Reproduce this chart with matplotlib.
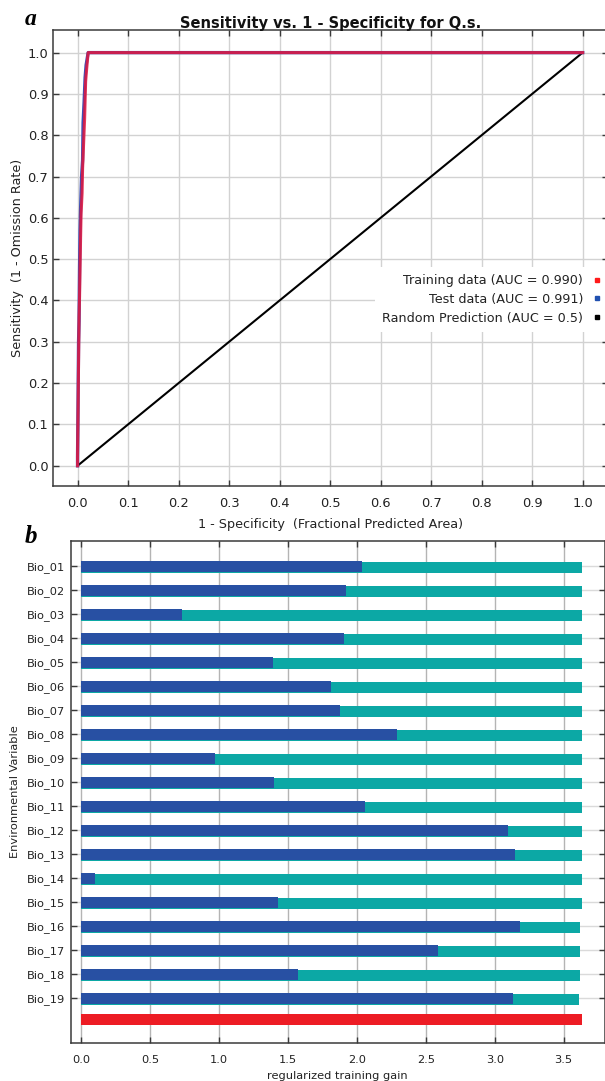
import numpy as np
import matplotlib.pyplot as plt
from matplotlib.lines import Line2D

# ROC curve (panel a)
train_fpr = [0.0, 0.0, 0.001, 0.002, 0.003, 0.004, 0.005, 0.006, 0.007, 0.009, 0.010,
             0.012, 0.014, 0.016, 0.018, 0.021, 1.0]
train_tpr = [0.0, 0.02, 0.13, 0.25, 0.36, 0.41, 0.48, 0.55, 0.61, 0.66, 0.72,
             0.78, 0.84, 0.93, 0.96, 1.0, 1.0]
test_fpr = [0.0, 0.0, 0.001, 0.002, 0.003, 0.004, 0.005, 0.006, 0.008, 0.010,
            0.011, 0.013, 0.015, 0.017, 0.021, 1.0]
test_tpr = [0.0, 0.02, 0.15, 0.30, 0.35, 0.48, 0.57, 0.62, 0.70, 0.74,
            0.83, 0.88, 0.94, 0.97, 1.0, 1.0]
rand_x = [0.0, 1.0]
rand_y = [0.0, 1.0]
auc_train = 0.990
auc_test = 0.991

# Jackknife (panel b)
variables = ["Bio_%02d" % i for i in range(1, 20)]
only_gain = [2.04, 1.92, 0.73, 1.91, 1.39, 1.81, 1.88, 2.29, 0.97, 1.40,
             2.06, 3.10, 3.15, 0.10, 1.43, 3.18, 2.59, 1.57, 3.13]
without_gain = [3.63, 3.63, 3.63, 3.63, 3.63, 3.63, 3.63, 3.63, 3.63, 3.63,
                3.63, 3.63, 3.63, 3.63, 3.63, 3.62, 3.62, 3.62, 3.61]
all_gain = 3.63

W, H = 605, 1081
fig = plt.figure(figsize=(W / 100, H / 100), dpi=100)
plt.rcParams['font.family'] = ['DejaVu Sans']

frame_c = '#3a3a3a'
txt_c = '#222222'

# ---------------- panel a ----------------
ax1 = fig.add_axes([53.3 / W, 1 - 486 / H, (607.9 - 53.3) / W, (486 - 30.3) / H])
ax1.set_xlim(-0.048, 1.05)
ax1.set_ylim(-0.049, 1.054)
ax1.set_xticks(np.arange(0, 1.01, 0.1))
ax1.set_yticks(np.arange(0, 1.01, 0.1))
ax1.set_xticklabels(["%.1f" % v for v in np.arange(0, 1.01, 0.1)])
ax1.set_yticklabels(["%.1f" % v for v in np.arange(0, 1.01, 0.1)])
ax1.grid(True, color='#d2d2d2', lw=1.0)
ax1.set_axisbelow(True)
for s in ax1.spines.values():
    s.set_color(frame_c)
    s.set_linewidth(1.1)
ax1.tick_params(direction='in', length=4, width=1, color=frame_c, labelsize=9.4,
                labelcolor=txt_c, top=True, right=True)
ax1.tick_params(axis='y', pad=3.6)
ax1.tick_params(axis='x', pad=8)

ax1.plot(rand_x, rand_y, color='black', lw=1.5, zorder=3)
ax1.plot(test_fpr, test_tpr, color='#3c4fb4', lw=2.4, zorder=4)
ax1.plot(train_fpr, train_tpr, color='#e3173e', lw=2.2, alpha=0.85, zorder=5)

ax1.set_title("Sensitivity vs. 1 - Specificity for Q.s.", fontsize=10.5,
              fontweight='bold', pad=2, color='#111111')
ax1.set_xlabel("1 - Specificity  (Fractional Predicted Area)", fontsize=9.2,
               color=txt_c, labelpad=5.5)
ax1.set_ylabel("Sensitivity  (1 - Omission Rate)", fontsize=9.2, color=txt_c,
               labelpad=2.5)

handles = [Line2D([], [], ls='none', marker='s', ms=3.3, color='#ff1a1a'),
           Line2D([], [], ls='none', marker='s', ms=3.3, color='#2050b0'),
           Line2D([], [], ls='none', marker='s', ms=3.3, color='black')]
labels = ["Training data (AUC = %.3f)" % auc_train,
          "Test data (AUC = %.3f)" % auc_test,
          "Random Prediction (AUC = 0.5)"]
leg = ax1.legend(handles, labels, loc='upper right', bbox_to_anchor=(1.0, 0.4806),
                 markerfirst=False, frameon=True, fancybox=False, framealpha=1,
                 edgecolor='none', facecolor='white', fontsize=9.2,
                 handlelength=0.6, handletextpad=0.8, labelspacing=0.46,
                 borderpad=0.55, borderaxespad=0)
for t in leg.get_texts():
    t.set_color(txt_c)

fig.text(31 / W, 1 - 25 / H, "a", fontsize=17, fontweight='bold', fontstyle='italic',
         family='Liberation Serif', ha='center', va='baseline')

# ---------------- panel b ----------------
ax2 = fig.add_axes([70.5 / W, 1 - 1042.7 / H, (605 - 70.5) / W, (1042.7 - 540.5) / H])
ypos = np.arange(len(variables))
ax2.barh(ypos + 0.06, without_gain, height=0.46, color='#0ca8a5', zorder=2)
ax2.barh(ypos, only_gain, height=0.46, color='#2850a3', zorder=3)
ax2.barh([18.91], [all_gain], height=0.46, color='#ed1c24', zorder=3)

ax2.set_xlim(-0.077, 3.80)
ax2.set_ylim(19.86, -1.07)
ax2.set_yticks(ypos)
ax2.set_yticklabels(variables)
ax2.set_xticks(np.arange(0, 3.6, 0.5))
ax2.set_xticklabels(["%.1f" % v for v in np.arange(0, 3.6, 0.5)])
ax2.grid(True, axis='x', color='#b4b4b4', lw=1.0)
ax2.grid(True, axis='y', color='#dadada', lw=1.0)
ax2.set_axisbelow(True)
for s in ax2.spines.values():
    s.set_color(frame_c)
    s.set_linewidth(1.1)
ax2.tick_params(direction='in', length=4, width=1, color=frame_c, labelsize=8.2,
                labelcolor=txt_c, top=True, right=True)
ax2.tick_params(axis='y', pad=4)
ax2.tick_params(axis='x', pad=8.5)
ax2.set_xlabel("regularized training gain", fontsize=8.2, color=txt_c, labelpad=4.5)
ax2.set_ylabel("Environmental Variable", fontsize=8.2, color=txt_c, labelpad=4.5)

fig.text(31 / W, 1 - 542.7 / H, "b", fontsize=18, fontweight='bold', fontstyle='italic',
         family='Liberation Serif', ha='center', va='baseline')

fig.savefig("out.png", dpi=100)
